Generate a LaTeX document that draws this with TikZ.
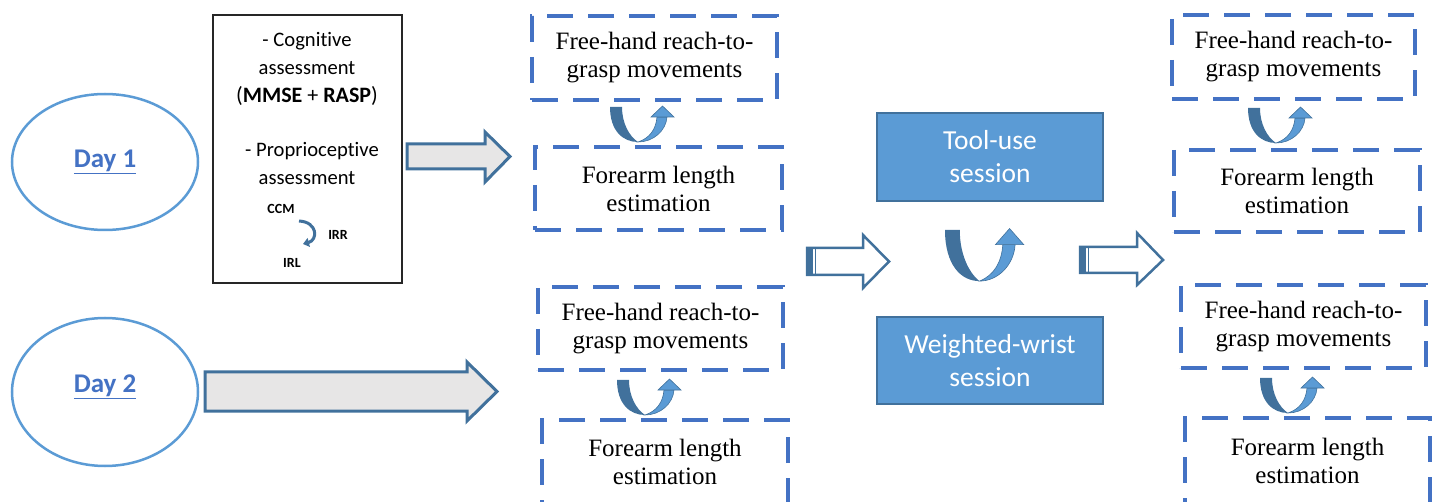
\documentclass[tikz,border=0pt]{standalone}
\usepackage{fontspec}
\setmainfont{Liberation Serif}
\newfontfamily\calfont[Ligatures=NoCommon]{Carlito}
\usetikzlibrary{arrows.meta,shapes.geometric}
\definecolor{dblue}{HTML}{4472C4}
\definecolor{mblue}{HTML}{5B9BD5}
\definecolor{sblue}{HTML}{41719C}
\definecolor{agray}{HTML}{E7E6E6}
\tikzset{
  uarr/.pic={
    \fill[sblue] (0,0) .. controls (0,24) and (13,35) .. (28,35) .. controls (19,29) and (12,16) .. (12,0) -- cycle;
    \filldraw[fill=mblue,draw=sblue,line width=0.6pt] (28,35) .. controls (43,35) and (56,24) .. (57,10) -- (47,10) .. controls (46,22) and (40,31) .. (28,35) -- cycle;
    \filldraw[fill=mblue,draw=sblue,line width=0.6pt] (41,10) -- (52.5,-1) -- (64,10) -- cycle;
  }
}
\begin{document}
\begin{tikzpicture}[x=1pt,y=-1pt,
  dbox/.style={draw=dblue, line width=3.5pt, dash pattern=on 26pt off 15pt, align=center,
    font=\fontsize{25}{28}\selectfont, inner sep=0pt},
  sbox/.style={draw=sblue, fill=mblue, line width=1.5pt, align=center, text=white,
    font=\calfont\fontsize{27.5}{33}\selectfont, minimum width=226pt, inner sep=0pt},
  day/.style={ellipse, draw=mblue, line width=2.5pt, fill=white, minimum width=186pt, inner sep=0pt},
  daytext/.style={font=\calfont\bfseries\fontsize{27}{30}\selectfont, text=dblue, inner sep=0pt},
  lbl/.style={font=\calfont\fontsize{20.6}{24}\selectfont, anchor=base, inner sep=0pt},
  slbl/.style={font=\calfont\bfseries\fontsize{14}{16}\selectfont, anchor=base, inner sep=0pt},
  garrow/.style={fill=agray, draw=sblue, line width=3pt, line join=miter},
  warrow/.style={fill=white, draw=sblue, line width=2.5pt, line join=miter},
]
\useasboundingbox (0,0) rectangle (1440,502);

% Day ellipses
\node[day, minimum height=136pt] (day1) at (105,162) {};
\node[daytext] (day1t) at (105,162) {\underline{Day 1}};
\node[day, minimum height=148pt] (day2) at (105,392) {};
\node[daytext] (day2t) at (105,387) {\underline{Day 2}};

% assessment box
\node[draw=black!85, line width=1.2pt, minimum width=189pt, minimum height=268pt, inner sep=0pt] (assess) at (307.5,149) {};
\node[lbl] (l1) at (307,47) {- Cognitive};
\node[lbl] (l2) at (307,75) {assessment};
\node[lbl, font=\calfont\fontsize{22}{24}\selectfont] (l3) at (307,103) {(\textbf{MMSE} + \textbf{RASP})};
\node[lbl] (l4) at (312,157) {- Proprioceptive};
\node[lbl] (l5) at (307,185) {assessment};
\node[slbl] (ccm) at (281,214) {CCM};
\node[slbl] (irr) at (338,240) {IRR};
\node[slbl] (irl) at (292,268) {IRL};
\draw[sblue, line width=3pt, -{Triangle[length=6pt,width=9pt]}] (299,221) .. controls (318,222) and (318,240) .. (303,244);

% grey block arrows
\draw[garrow] (407,144) -- (485,144) -- (485,132) -- (510,156.5) -- (485,182) -- (485,169) -- (407,169) -- cycle;
\draw[garrow] (205,372) -- (467,372) -- (467,362) -- (497,391.5) -- (467,421) -- (467,411) -- (205,411) -- cycle;

% dashed boxes, first column
\node[dbox, minimum width=245pt, minimum height=84pt] (a) at (654.5,58) {Free-hand reach-to-\\grasp movements};
\node[dbox, minimum width=247pt, minimum height=83pt] (b) at (658.5,188.5) {Forearm length\\estimation};
\node[dbox, minimum width=245pt, minimum height=83pt] (c) at (660.5,328.5) {Free-hand reach-to-\\grasp movements};
\node[dbox, minimum width=246pt, minimum height=84pt] (d) at (665,462) {Forearm length\\estimation};

% dashed boxes, second column
\node[dbox, minimum width=243pt, minimum height=84pt] (e) at (1293.5,57) {Free-hand reach-to-\\grasp movements};
\node[dbox, minimum width=246pt, minimum height=82pt] (f) at (1297,191) {Forearm length\\estimation};
\node[dbox, minimum width=245pt, minimum height=83pt] (g) at (1303.5,326.5) {Free-hand reach-to-\\grasp movements};
\node[dbox, minimum width=245pt, minimum height=86pt] (h) at (1307.5,461) {Forearm length\\estimation};

% session boxes
\node[sbox, minimum height=88pt] (tool) at (990,157) {Tool-use\\session};
\node[sbox, minimum height=87pt] (wrist) at (990,360.5) {Weighted-wrist\\session};

% striped arrows
\draw[warrow] (807,248) -- (863,248) -- (863,235) -- (889,261.5) -- (863,288) -- (863,275) -- (807,275) -- cycle;
\fill[sblue] (807,248) rectangle (812.5,275);
\draw[sblue, line width=1.2pt] (815.5,248) -- (815.5,275);
\draw[warrow] (1080,247) -- (1137,247) -- (1137,233) -- (1163,260) -- (1137,285) -- (1137,273) -- (1080,273) -- cycle;
\fill[sblue] (1080,247) rectangle (1085.5,273);
\draw[sblue, line width=1.2pt] (1088.5,247) -- (1088.5,273);

% U arrows
\pic at (610,107) {uarr};
\pic at (617,380) {uarr};
\pic at (1248,108) {uarr};
\pic at (1260,378) {uarr};
\pic[xscale=1.23,yscale=1.46] at (945,230) {uarr};
\end{tikzpicture}
\end{document}
